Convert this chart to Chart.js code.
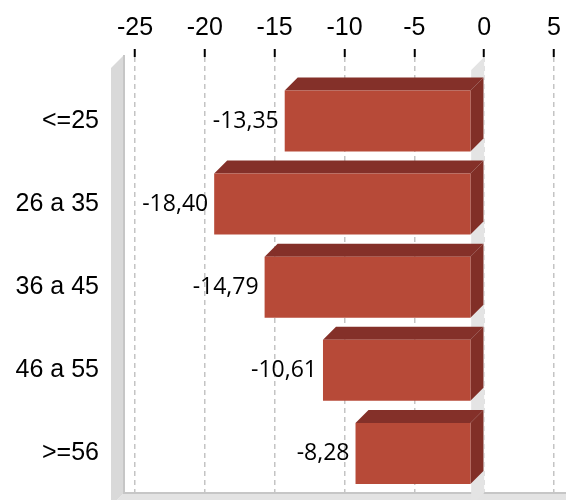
<!DOCTYPE html>
<html>
<head>
<meta charset="utf-8">
<script src="https://cdn.jsdelivr.net/npm/chart.js@4/dist/chart.umd.min.js"></script>
<style>
html,body{margin:0;padding:0;background:#fff;}
canvas{display:block;}
</style>
</head>
<body>
<canvas id="c" width="566" height="500"></canvas>
<script>
const categories = ['<=25', '26 a 35', '36 a 45', '46 a 55', '>=56'];
const values = [-13.35, -18.40, -14.79, -10.61, -8.28];
const valueLabels = ['-13,35', '-18,40', '-14,79', '-10,61', '-8,28'];

const DEPTH = 13;
const FRONT = '#B74A38';
const TOP = '#843029';
const SIDE = '#812F27';

const depthPlugin = {
  id: 'depth3d',
  beforeDatasetsDraw(chart) {
    const ctx = chart.ctx;
    const a = chart.chartArea;
    const xs = chart.scales.x;
    const z = xs.getPixelForValue(0);
    const wallX = a.left - 11;
    ctx.save();
    // floor strip (bottom)
    ctx.fillStyle = '#e3e3e3';
    ctx.beginPath();
    ctx.moveTo(wallX, a.bottom);
    ctx.lineTo(chart.width + DEPTH, a.bottom);
    ctx.lineTo(chart.width, a.bottom + DEPTH);
    ctx.lineTo(wallX - DEPTH, a.bottom + DEPTH);
    ctx.closePath();
    ctx.fill();
    // left wall
    ctx.fillStyle = '#d9d9d9';
    ctx.beginPath();
    ctx.moveTo(wallX, a.top - 2);
    ctx.lineTo(wallX, a.bottom);
    ctx.lineTo(wallX - DEPTH, a.bottom + DEPTH);
    ctx.lineTo(wallX - DEPTH, a.top - 2 + DEPTH);
    ctx.closePath();
    ctx.fill();
    ctx.strokeStyle = '#c6c6c6';
    ctx.lineWidth = 2;
    ctx.beginPath();
    ctx.moveTo(wallX, a.top - 2);
    ctx.lineTo(wallX, a.bottom);
    ctx.lineTo(chart.width, a.bottom);
    ctx.stroke();
    // zero plane
    ctx.fillStyle = '#e4e4e4';
    ctx.beginPath();
    ctx.moveTo(z, a.top);
    ctx.lineTo(z, a.bottom);
    ctx.lineTo(z - DEPTH, a.bottom + DEPTH);
    ctx.lineTo(z - DEPTH, a.top + DEPTH);
    ctx.closePath();
    ctx.fill();
    // top and side faces of bars
    const meta = chart.getDatasetMeta(0);
    meta.data.forEach((el) => {
      const p = el.getProps(['x', 'y', 'base', 'height'], true);
      const x1 = Math.min(p.x, p.base), x2 = Math.max(p.x, p.base);
      const y1 = p.y - p.height / 2, y2 = p.y + p.height / 2;
      ctx.fillStyle = TOP;
      ctx.beginPath();
      ctx.moveTo(x1, y1);
      ctx.lineTo(x2, y1);
      ctx.lineTo(x2 - DEPTH, y1 + DEPTH);
      ctx.lineTo(x1 - DEPTH, y1 + DEPTH);
      ctx.closePath();
      ctx.fill();
      ctx.fillStyle = SIDE;
      ctx.beginPath();
      ctx.moveTo(x2, y1);
      ctx.lineTo(x2, y2);
      ctx.lineTo(x2 - DEPTH, y2 + DEPTH);
      ctx.lineTo(x2 - DEPTH, y1 + DEPTH);
      ctx.closePath();
      ctx.fill();
    });
    ctx.restore();
    ctx.save();
    ctx.translate(-DEPTH, DEPTH);
  },
  afterDatasetsDraw(chart) {
    const ctx = chart.ctx;
    ctx.restore();
    const meta = chart.getDatasetMeta(0);
    ctx.save();
    ctx.font = '23px "Open Sans"';
    ctx.fillStyle = '#000';
    ctx.textAlign = 'right';
    ctx.textBaseline = 'middle';
    meta.data.forEach((el, i) => {
      const p = el.getProps(['x', 'y', 'base'], true);
      const x1 = Math.min(p.x, p.base);
      ctx.fillText(valueLabels[i], x1 - DEPTH - 6, p.y + DEPTH);
    });
    ctx.restore();
  }
};

new Chart(document.getElementById('c'), {
  type: 'bar',
  data: {
    datasets: [{
      data: values.map((v, i) => ({ x: v, y: i })),
      backgroundColor: FRONT,
      borderWidth: 0,
      barPercentage: 0.734,
      categoryPercentage: 1,
      clip: false
    }]
  },
  options: {
    indexAxis: 'y',
    responsive: false,
    animation: false,
    devicePixelRatio: 1,
    layout: { autoPadding: false, padding: { top: 0, right: 12, bottom: 7, left: 0 } },
    plugins: { legend: { display: false }, tooltip: { enabled: false } },
    scales: {
      x: {
        type: 'linear',
        position: 'top',
        min: -25,
        max: 5,
        ticks: {
          stepSize: 5,
          color: '#000',
          padding: 6,
          font: { family: '"Liberation Sans", Arial, sans-serif', size: 25 }
        },
        grid: {
          color: '#c4c4c4',
          lineWidth: 1.5,
          tickColor: '#000',
          tickWidth: 2,
          tickLength: 8,
          borderDash: [5, 4]
        },
        border: { display: false, dash: [5, 4] },
        afterFit: (s) => { s.height = 57; s.paddingLeft = 0; s.paddingRight = 0; }
      },
      y: {
        type: 'linear',
        offset: false,
        reverse: true,
        min: -0.614,
        max: 4.633,
        afterBuildTicks: (s) => { s.ticks = categories.map((c, i) => ({ value: i })); },
        ticks: {
          color: '#000',
          padding: 28,
          labelOffset: DEPTH,
          font: { family: '"Liberation Sans", Arial, sans-serif', size: 25 },
          callback: (v) => categories[v] ?? ''
        },
        grid: { display: false },
        border: { display: false },
        afterFit: (s) => { s.width = 135; s.paddingTop = 0; s.paddingBottom = 0; }
      }
    }
  },
  plugins: [depthPlugin]
});
</script>
</body>
</html>
